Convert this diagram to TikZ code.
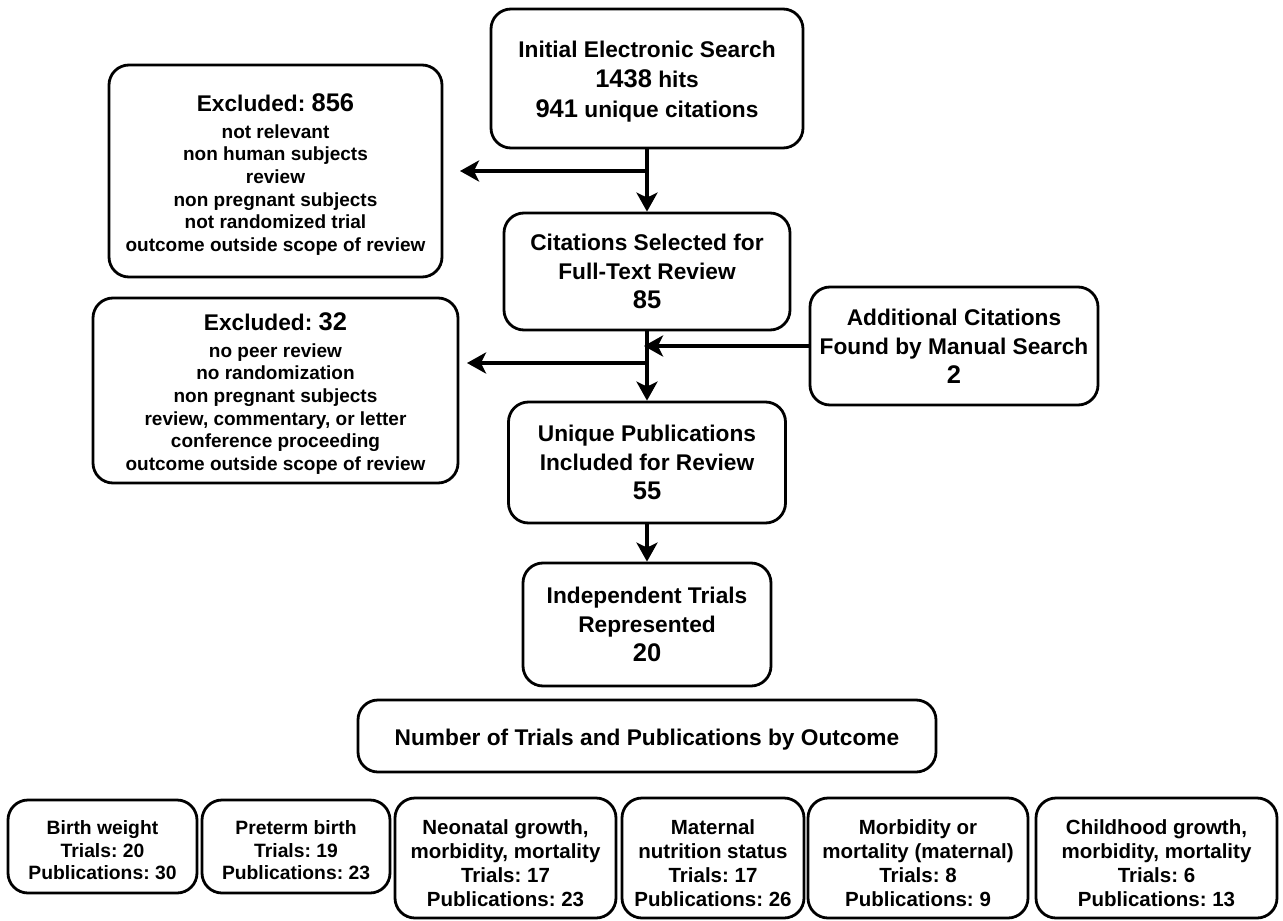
\documentclass[tikz,border=0pt]{standalone}
\usepackage{fontspec}
\setmainfont{Liberation Sans}
\usetikzlibrary{arrows.meta}
\frenchspacing
\newcommand{\bignum}[1]{{\fontsize{25.5bp}{30bp}\selectfont #1}}
\newcommand{\headline}[1]{{\fontsize{22.7bp}{27bp}\selectfont #1}}
\newcommand{\lift}[1]{\rule{0pt}{#1}}
\begin{document}
\begin{tikzpicture}[x=1bp,y=-1bp,>={Stealth[length=19bp,width=21bp,inset=5bp]},line join=round,
  box/.style={draw,line width=2.8bp,rounded corners=20bp,align=center,inner sep=0pt,
    font=\bfseries\fontsize{22.7bp}{29bp}\selectfont},
  listbox/.style={box,font=\bfseries\fontsize{19bp}{22.7bp}\selectfont},
  smallbox/.style={box,font=\bfseries\fontsize{19.3bp}{22.5bp}\selectfont},
  tallbox/.style={box,minimum height=120bp,font=\bfseries\fontsize{20.5bp}{24bp}\selectfont},
  flow/.style={->,line width=3.6bp}]
  \useasboundingbox (0,0) rectangle (1283,921);
%%
  % Node: init
  \node[box,minimum width=312bp,minimum height=139bp] (init) at (647,78.5)
    {\lift{22bp}Initial Electronic Search\\[1bp] \bignum{1438} hits\\[1bp] \bignum{941} unique citations};
  % Node: ex1
  \node[listbox,minimum width=333bp,minimum height=212bp] (ex1) at (275.5,171)
    {\lift{25bp}\headline{Excluded: \bignum{856}}\\[4bp] not relevant\\ non human subjects\\ review\\
     non pregnant subjects\\ not randomized trial\\ outcome outside scope of review};
  % Node: cit
  \node[box,minimum width=286bp,minimum height=117bp] (cit) at (647,271.5)
    {Citations Selected for\\ Full-Text Review\\ \bignum{85}};
  % Node: ex2
  \node[listbox,minimum width=365bp,minimum height=185bp] (ex2) at (275.5,390.5)
    {\lift{24bp}\headline{Excluded: \bignum{32}}\\[4bp] no peer review\\ no randomization\\
     non pregnant subjects\\ review, commentary, or letter\\ conference proceeding\\
     outcome outside scope of review};
  % Node: add
  \node[box,minimum width=288bp,minimum height=118bp] (add) at (954,346)
    {Additional Citations\\ Found by Manual Search\\ \bignum{2}};
  % Node: uniq
  \node[box,minimum width=277bp,minimum height=121bp] (uniq) at (647,462.5)
    {Unique Publications\\ Included for Review\\ \bignum{55}};
  % Node: indep
  \node[box,minimum width=248bp,minimum height=123bp] (indep) at (647,624.5)
    {Independent Trials\\ Represented\\ \bignum{20}};
  % Node: num
  \node[box,minimum width=578bp,minimum height=72bp] (num) at (647,736)
    {\lift{24bp}Number of Trials and Publications by Outcome};
%
  % Nodes: outcomes
  \node[smallbox,minimum width=189bp,minimum height=93bp] (bw) at (102.5,846.5)
    {\lift{22bp}Birth weight\\ Trials: 20\\ Publications: 30};
  \node[smallbox,minimum width=188bp,minimum height=93bp] (pb) at (296,846.5)
    {\lift{22bp}Preterm birth\\ Trials: 19\\ Publications: 23};
  \node[tallbox,minimum width=221bp] (neo) at (505.5,858)
    {\lift{25bp}Neonatal growth,\\ morbidity, mortality\\ Trials: 17\\ Publications: 23};
  \node[tallbox,minimum width=182bp] (mat) at (713,858)
    {\lift{25bp}Maternal\\ nutrition status\\ Trials: 17\\ Publications: 26};
  \node[tallbox,minimum width=220bp] (mor) at (918,858)
    {\lift{25bp}Morbidity or\\ mortality (maternal)\\ Trials: 8\\ Publications: 9};
  \node[tallbox,minimum width=241bp] (chi) at (1156.5,858)
    {\lift{25bp}Childhood growth,\\ morbidity, mortality\\ Trials: 6\\ Publications: 13};
%%
  \coordinate (j1) at (647,171);
  \coordinate (t1) at (460,171);
  \coordinate (j2) at (647,363);
  \coordinate (t2) at (467,363);
  % Edge: init -> cit
  \draw[flow] (init.south) -- (cit.north);
  % Edge: init -> ex1
  \draw[flow] (j1) -- (t1);
  % Edge: cit -> uniq
  \draw[flow] (cit.south) -- (uniq.north);
  % Edge: cit -> ex2
  \draw[flow] (j2) -- (t2);
  % Edge: add -> cit/uniq
  \draw[flow,shorten >=-3bp] (add.west) -- (add.west -| cit.south);
  % Edge: uniq -> indep
  \draw[flow] (uniq.south) -- (indep.north);
%
\end{tikzpicture}
\end{document}
